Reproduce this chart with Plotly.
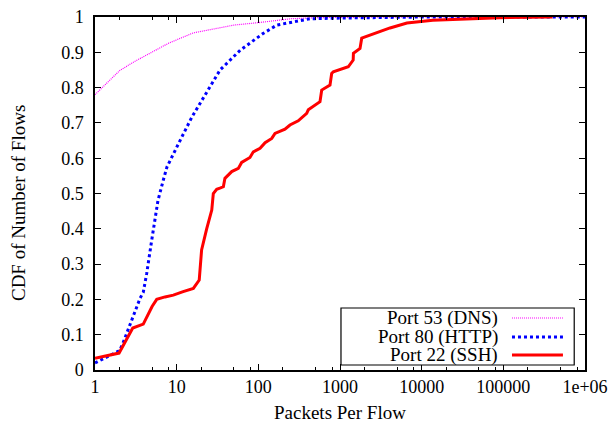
import plotly.graph_objects as go

# ---- data ----
dns_x = [1, 2, 3, 5, 8, 16, 30, 50, 100, 130, 250, 500, 1000, 10000, 1000000]
dns_y = [0.78, 0.848, 0.873, 0.9, 0.926, 0.955, 0.967, 0.977, 0.984, 0.987, 0.995, 0.998, 0.999, 1.0, 1.0]

http_x = [1, 2, 2.2, 2.9, 3.56, 3.9, 4.3, 4.95, 5.9, 6.86, 7.6, 11, 15.4, 23.5, 34, 60, 114, 168, 324, 430,
          1000, 10000, 1000000]
http_y = [0.02, 0.055, 0.076, 0.15, 0.203, 0.22, 0.274, 0.368, 0.48, 0.538, 0.575, 0.65, 0.717, 0.788, 0.85,
          0.906, 0.953, 0.977, 0.99, 0.995, 0.997, 1.0, 1.0]

ssh_x = [1, 1.97, 2.9, 3.9, 5, 5.7, 7.2, 9.1, 12, 16, 18.9, 20.2, 23.3, 26.9, 28.1, 30.9, 33.8, 37.3, 39,
         47.2, 56.9, 62.5, 79, 86.8, 105, 121, 146, 160, 212, 244, 308, 391, 409, 569, 597, 754, 791, 828,
         1263, 1450, 1460, 1758, 1845, 2328, 2944, 4100, 6600, 13700, 90000, 400000]
ssh_y = [0.033, 0.048, 0.119, 0.13, 0.18, 0.2, 0.207, 0.212, 0.222, 0.231, 0.255, 0.34, 0.40, 0.453, 0.5,
         0.512, 0.515, 0.519, 0.543, 0.562, 0.571, 0.588, 0.602, 0.618, 0.628, 0.644, 0.656, 0.67, 0.682,
         0.694, 0.706, 0.727, 0.737, 0.76, 0.793, 0.807, 0.84, 0.845, 0.859, 0.878, 0.897, 0.911, 0.94,
         0.949, 0.958, 0.969, 0.983, 0.991, 0.998, 1.0]

x_tickvals = [1, 10, 100, 1000, 10000, 100000, 1000000]
x_ticktext = ["1", "10", "100", "1000", "10000", "100000", "1e+06"]
x_minor = [m * 10 ** d for d in range(6) for m in (2, 5, 8)]

legend_names = ["Port 53 (DNS)", "Port 80 (HTTP)", "Port 22 (SSH)"]

FONT = "Liberation Serif, Times New Roman, serif"

fig = go.Figure()
fig.add_trace(go.Scatter(x=dns_x, y=dns_y, mode="lines", name=legend_names[0],
                         line=dict(color="#ff00ff", width=1.2, dash="1px,1px")))
fig.add_trace(go.Scatter(x=http_x, y=http_y, mode="lines", name=legend_names[1],
                         line=dict(color="#0000ff", width=3, dash="dot")))
fig.add_trace(go.Scatter(x=ssh_x, y=ssh_y, mode="lines", name=legend_names[2],
                         line=dict(color="#ff0000", width=3)))

fig.update_layout(
    width=613, height=428,
    margin=dict(l=95, r=28, t=17, b=58, autoexpand=False),
    paper_bgcolor="white", plot_bgcolor="white",
    showlegend=False,
    font=dict(family=FONT, size=18, color="black"),
)
fig.update_xaxes(type="log", range=[0, 6], tickvals=x_tickvals, ticktext=x_ticktext,
                 ticks="inside", ticklen=6, tickwidth=1, tickcolor="black",
                 minor=dict(tickvals=x_minor, ticks="inside", ticklen=3, tickcolor="black", tickwidth=1),
                 showline=True, linecolor="black", linewidth=1.5, mirror="allticks",
                 showgrid=False, zeroline=False, tickfont=dict(size=18), automargin=False)
fig.update_yaxes(range=[0, 1], dtick=0.1, tick0=0,
                 ticks="inside", ticklen=6, tickwidth=1, tickcolor="black",
                 showline=True, linecolor="black", linewidth=1.5, mirror="allticks",
                 showgrid=False, zeroline=False, tickfont=dict(size=18), ticklabelstandoff=6,
                 automargin=False)

# axis titles
fig.add_annotation(text="Packets Per Flow", xref="paper", yref="paper", x=0.5, y=0,
                   yshift=-42, xanchor="center", yanchor="middle", showarrow=False,
                   font=dict(size=19))
fig.add_annotation(text="CDF of Number of Flows", xref="paper", yref="paper", x=0, y=0.473,
                   xshift=-77, textangle=-90, xanchor="center", yanchor="middle", showarrow=False,
                   font=dict(size=19))

# gnuplot-style key (text right, sample left)
fig.add_shape(type="rect", xref="paper", yref="paper", x0=0.502, x1=0.978, y0=0.0142, y1=0.1756,
              line=dict(color="black", width=1.2), fillcolor="white", layer="above")
rows_y = [0.1473, 0.0935, 0.0425]
styles = [dict(color="#ff00ff", width=1.2, dash="1px,1px"),
          dict(color="#0000ff", width=3, dash="dot"),
          dict(color="#ff0000", width=3)]
for name, ry, st in zip(legend_names, rows_y, styles):
    fig.add_annotation(text=name, xref="paper", yref="paper", x=0.8265, y=ry, xanchor="right",
                       yanchor="middle", showarrow=False, font=dict(size=19))
    fig.add_shape(type="line", xref="paper", yref="paper", x0=0.851, x1=0.955, y0=ry, y1=ry,
                  line=st, layer="above")

fig.write_html("out.html", config={"displayModeBar": False},
               post_script="document.body.style.margin='0';")
